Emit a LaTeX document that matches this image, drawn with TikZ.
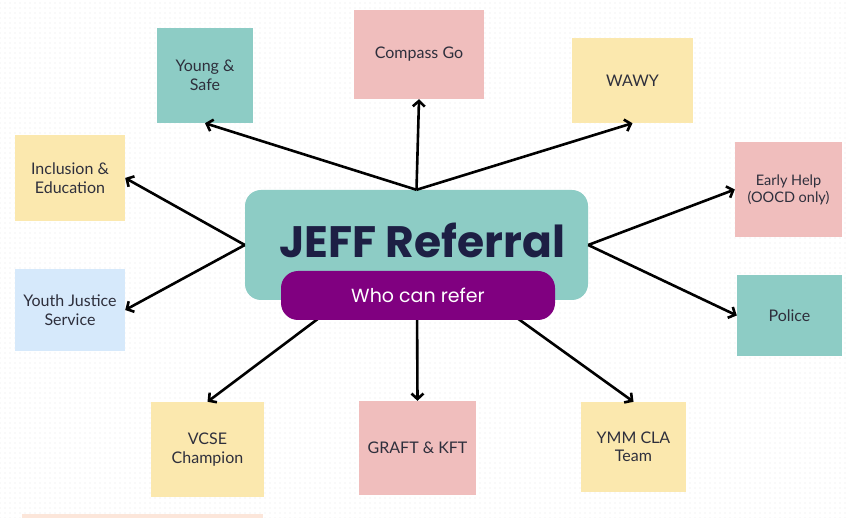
\documentclass[tikz,border=0pt]{standalone}
\usepackage{fontspec}
\setmainfont{Lato}
\newfontfamily\headfont{Poppins}
\usetikzlibrary{arrows.meta,patterns.meta}

\definecolor{tealbox}{HTML}{8DCCC5}
\definecolor{yellowbox}{HTML}{FBE8AE}
\definecolor{pinkbox}{HTML}{F0BEBD}
\definecolor{bluebox}{HTML}{D6E9FB}
\definecolor{pillpurple}{HTML}{800080}
\definecolor{navytext}{HTML}{1D1F44}
\definecolor{labeltext}{HTML}{2E2F3C}
\definecolor{peach}{HTML}{FCE6DA}

\tikzset{
  card/.style={minimum width=#1, inner sep=0pt, align=center,
    font=\fontsize{16}{18.5}\selectfont, text=labeltext},
  link/.style={line width=2.6pt, draw=black,
    -{Straight Barb[length=5.5pt,width=12pt,line width=2.6pt]}},
}

\begin{document}
\begin{tikzpicture}[x=1pt,y=-1pt]
  % canvas with a faint dot grid
  \fill[white] (0,0) rectangle (849,518);
  \useasboundingbox (0,0) rectangle (849,518);
  \fill[pattern={Dots[distance=5pt,radius=0.55pt]}, pattern color=black!9]
    (0,0) rectangle (849,518);
  \fill[peach] (22,514) rectangle (263,518);

  % referral agencies
  \node[card=96pt,  minimum height=95pt, fill=tealbox]   (ys)    at (205,75.5)   {Young \&\\Safe};
  \node[card=110pt, minimum height=86pt, fill=yellowbox] (inc)   at (70,178)     {Inclusion \&\\Education};
  \node[card=110pt, minimum height=82pt, fill=bluebox]   (yjs)   at (70,310)     {Youth Justice\\Service};
  \node[card=130pt, minimum height=89pt, fill=pinkbox]   (cg)    at (419,54.5)   {Compass Go};
  \node[card=121pt, minimum height=85pt, fill=yellowbox] (wawy)  at (632.5,80.5) {WAWY};
  \node[card=107pt, minimum height=95pt, fill=pinkbox,
        font=\fontsize{14.5}{17}\selectfont]            (eh)    at (788.5,189.5){Early Help\\(OOCD only)};
  \node[card=105pt, minimum height=81pt, fill=tealbox]   (pol)   at (789.5,315.5){Police};
  \node[card=105pt, minimum height=90pt, fill=yellowbox] (ymm)   at (633.5,447)  {YMM CLA\\Team};
  \node[card=113pt, minimum height=95pt, fill=yellowbox] (vcse)  at (207.5,449.5){VCSE\\Champion};
  \node[card=117pt, minimum height=94pt, fill=pinkbox]   (graft) at (417.5,448)  {GRAFT \& KFT};

  % central box
  \node[fill=tealbox, rounded corners=16pt, minimum width=343pt,
        minimum height=110pt, inner sep=0pt] (central) at (416.5,245) {};
  \coordinate (b1) at (343,300);
  \coordinate (b2) at (417,300);
  \coordinate (b3) at (492,300);

  % connectors
  \draw[link] (central.north) -- (ys.south);
  \draw[link] (central.north) -- (cg.south);
  \draw[link] (central.north) -- (wawy.south);
  \draw[link] (central.west) -- (inc.east);
  \draw[link] (central.west) -- (yjs.east);
  \draw[link] (central.east) -- (eh.west);
  \draw[link] (central.east) -- (pol.west);
  \draw[link] (b1) -- (vcse.north);
  \draw[link] (b2) -- (graft.north);
  \draw[link] (b3) -- (ymm.north);

  % title and sub-heading
  \node[text=navytext, font=\headfont\bfseries\fontsize{44}{48}\selectfont,
        inner sep=0pt] (title) at (422,240) {JEFF Referral};
  \node[fill=pillpurple, rounded corners=17pt, minimum width=274pt,
        minimum height=49pt, inner sep=0pt, text=white,
        font=\headfont\fontsize{19}{22}\selectfont] (pill) at (418,295.5) {Who can refer};
\end{tikzpicture}
\end{document}
